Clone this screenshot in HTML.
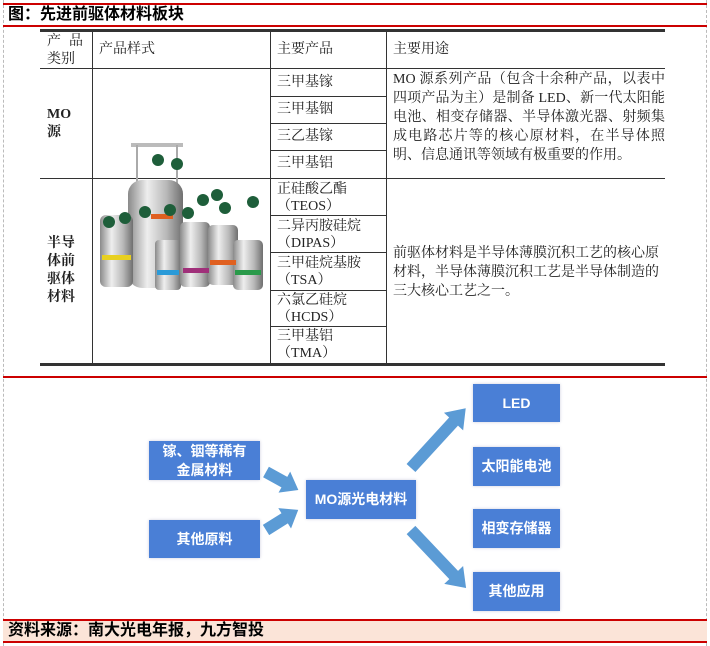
<!DOCTYPE html>
<html><head><meta charset="utf-8"><style>
body{margin:0;width:710px;height:646px;background:#fff;position:relative;overflow:hidden;font-family:"Liberation Serif","Noto Serif CJK SC",serif;}
.a{position:absolute}
.t{position:absolute;font-size:14px;color:#222;line-height:18px}
.s{line-height:17px}
.box{position:absolute;background:#4a7fd6;color:#fff;font-family:"Liberation Sans","Noto Sans CJK SC",sans-serif;font-weight:bold;font-size:14px;display:flex;align-items:center;justify-content:center;text-align:center;line-height:19px;box-shadow:0 0 3px #ccd}
</style></head><body>
<div class="a" style="left:3px;top:0;width:1px;height:646px;border-left:1px dashed #bbb"></div>
<div class="a" style="left:706px;top:0;width:1px;height:646px;border-left:1px dashed #bbb"></div>
<div class="a" style="left:3px;top:3px;width:704px;height:2px;background:#c00"></div>
<div class="t" style="left:8px;top:5px;font-size:16px;font-weight:bold;color:#000;line-height:20px;font-family:'Liberation Sans','Noto Sans CJK SC',sans-serif">图：先进前驱体材料板块</div>
<div class="a" style="left:3px;top:25px;width:704px;height:2px;background:#c00"></div>
<div class="a" style="left:40px;top:29px;width:625px;height:3px;background:#333"></div>
<div class="a" style="left:40px;top:68px;width:625px;height:1px;background:#333"></div>
<div class="a" style="left:40px;top:178px;width:625px;height:1px;background:#333"></div>
<div class="a" style="left:40px;top:363px;width:625px;height:3px;background:#333"></div>
<div class="a" style="left:92px;top:32px;width:1px;height:331px;background:#333"></div>
<div class="a" style="left:270px;top:32px;width:1px;height:331px;background:#333"></div>
<div class="a" style="left:386px;top:32px;width:1px;height:331px;background:#333"></div>
<div class="a" style="left:270px;top:96px;width:116px;height:1px;background:#333"></div>
<div class="a" style="left:270px;top:123px;width:116px;height:1px;background:#333"></div>
<div class="a" style="left:270px;top:150px;width:116px;height:1px;background:#333"></div>
<div class="a" style="left:270px;top:215px;width:116px;height:1px;background:#333"></div>
<div class="a" style="left:270px;top:252px;width:116px;height:1px;background:#333"></div>
<div class="a" style="left:270px;top:290px;width:116px;height:1px;background:#333"></div>
<div class="a" style="left:270px;top:326px;width:116px;height:1px;background:#333"></div>
<div class="t" style="left:47px;top:33px;letter-spacing:8px">产品</div>
<div class="t" style="left:47px;top:51px">类别</div>
<div class="t" style="left:99px;top:41px">产品样式</div>
<div class="t" style="left:277px;top:41px">主要产品</div>
<div class="t" style="left:393px;top:41px">主要用途</div>
<div class="t" style="left:47px;top:106px;font-weight:bold">MO<br>源</div>
<div class="t" style="left:47px;top:235px;font-weight:bold">半导<br>体前<br>驱体<br>材料</div>
<div class="t" style="left:277px;top:74px">三甲基镓</div>
<div class="t" style="left:277px;top:101px">三甲基铟</div>
<div class="t" style="left:277px;top:128px">三乙基镓</div>
<div class="t" style="left:277px;top:155px">三甲基铝</div>
<div class="t s" style="left:277px;top:181px">正硅酸乙酯<br>（TEOS）</div>
<div class="t s" style="left:277px;top:218px">二异丙胺硅烷<br>（DIPAS）</div>
<div class="t s" style="left:277px;top:255px">三甲硅烷基胺<br>（TSA）</div>
<div class="t s" style="left:277px;top:292px">六氯乙硅烷<br>（HCDS）</div>
<div class="t s" style="left:277px;top:328px">三甲基铝<br>（TMA）</div>
<div class="t" style="left:393px;top:70px;width:272px;line-height:19px;text-align:justify">MO 源系列产品（包含十余种产品，以表中四项产品为主）是制备 LED、新一代太阳能电池、相变存储器、半导体激光器、射频集成电路芯片等的核心原材料，在半导体照明、信息通讯等领域有极重要的作用。</div>
<div class="t" style="left:393px;top:244px;width:272px;line-height:19px">前驱体材料是半导体薄膜沉积工艺的核心原材料，半导体薄膜沉积工艺是半导体制造的三大核心工艺之一。</div>
<svg class="a" style="left:95px;top:140px" width="175" height="155">
<defs><linearGradient id="g" x1="0" x2="1"><stop offset="0" stop-color="#8a8a8a"/><stop offset=".35" stop-color="#eee"/><stop offset=".7" stop-color="#b8b8b8"/><stop offset="1" stop-color="#6f6f6f"/></linearGradient></defs>
<rect x="36" y="3" width="52" height="4" fill="#bbb"/>
<line x1="42" y1="5" x2="42" y2="50" stroke="#aaa" stroke-width="2"/><line x1="82" y1="5" x2="82" y2="50" stroke="#aaa" stroke-width="2"/>
<rect x="33" y="40" width="55" height="108" rx="14" fill="url(#g)"/>
<rect x="5" y="75" width="33" height="72" rx="6" fill="url(#g)"/>
<rect x="60" y="100" width="26" height="50" rx="4" fill="url(#g)"/>
<rect x="85" y="82" width="30" height="65" rx="5" fill="url(#g)"/>
<rect x="113" y="85" width="30" height="60" rx="5" fill="url(#g)"/>
<rect x="138" y="100" width="30" height="50" rx="5" fill="url(#g)"/>
<rect x="7" y="115" width="29" height="5" fill="#e8d020"/>
<rect x="62" y="130" width="22" height="5" fill="#2a9ad8"/>
<rect x="88" y="128" width="26" height="5" fill="#a0307a"/>
<rect x="115" y="120" width="26" height="5" fill="#e06020"/>
<rect x="140" y="130" width="26" height="5" fill="#2a9a4a"/>
<rect x="56" y="74" width="22" height="5" fill="#e06020"/>
<g fill="#1e5e3a"><circle cx="14" cy="82" r="6"/><circle cx="30" cy="78" r="6"/><circle cx="63" cy="20" r="6"/><circle cx="82" cy="24" r="6"/><circle cx="50" cy="72" r="6"/><circle cx="75" cy="70" r="6"/><circle cx="93" cy="73" r="6"/><circle cx="108" cy="60" r="6"/><circle cx="122" cy="55" r="6"/><circle cx="130" cy="68" r="6"/><circle cx="158" cy="62" r="6"/></g>
</svg>
<div class="a" style="left:3px;top:376px;width:704px;height:2px;background:#c00"></div>
<div class="box" style="left:149px;top:441px;width:111px;height:39px">镓、铟等稀有<br>金属材料</div>
<div class="box" style="left:149px;top:520px;width:111px;height:38px">其他原料</div>
<div class="box" style="left:306px;top:480px;width:110px;height:39px">MO源光电材料</div>
<div class="box" style="left:473px;top:384px;width:87px;height:38px">LED</div>
<div class="box" style="left:473px;top:447px;width:87px;height:39px">太阳能电池</div>
<div class="box" style="left:473px;top:509px;width:87px;height:39px">相变存储器</div>
<div class="box" style="left:473px;top:572px;width:87px;height:39px">其他应用</div>
<svg class="a" style="left:0;top:0" width="710" height="646">
<g fill="#5b9bd5">
<polygon transform="translate(266,472) rotate(29)" points="0,-6 21,-6 21,-12 37,0 21,12 21,6 0,6"/>
<polygon transform="translate(266,530) rotate(-32)" points="0,-6 22,-6 22,-12 38,0 22,12 22,6 0,6"/>
<polygon transform="translate(411,468) rotate(-47.5)" points="0,-6 63,-6 63,-13 81,0 63,13 63,6 0,6"/>
<polygon transform="translate(411,530) rotate(46.5)" points="0,-6 62,-6 62,-13 80,0 62,13 62,6 0,6"/>
</g>
</svg>
<div class="a" style="left:3px;top:619px;width:704px;height:2px;background:#c00"></div>
<div class="a" style="left:3px;top:621px;width:704px;height:20px;background:#fbe4d8"></div>
<div class="a" style="left:3px;top:641px;width:704px;height:2px;background:#c00"></div>
<div class="t" style="left:8px;top:621px;font-size:16px;font-weight:bold;color:#000;line-height:20px;font-family:'Liberation Sans','Noto Sans CJK SC',sans-serif">资料来源：南大光电年报，九方智投</div>
</body></html>
